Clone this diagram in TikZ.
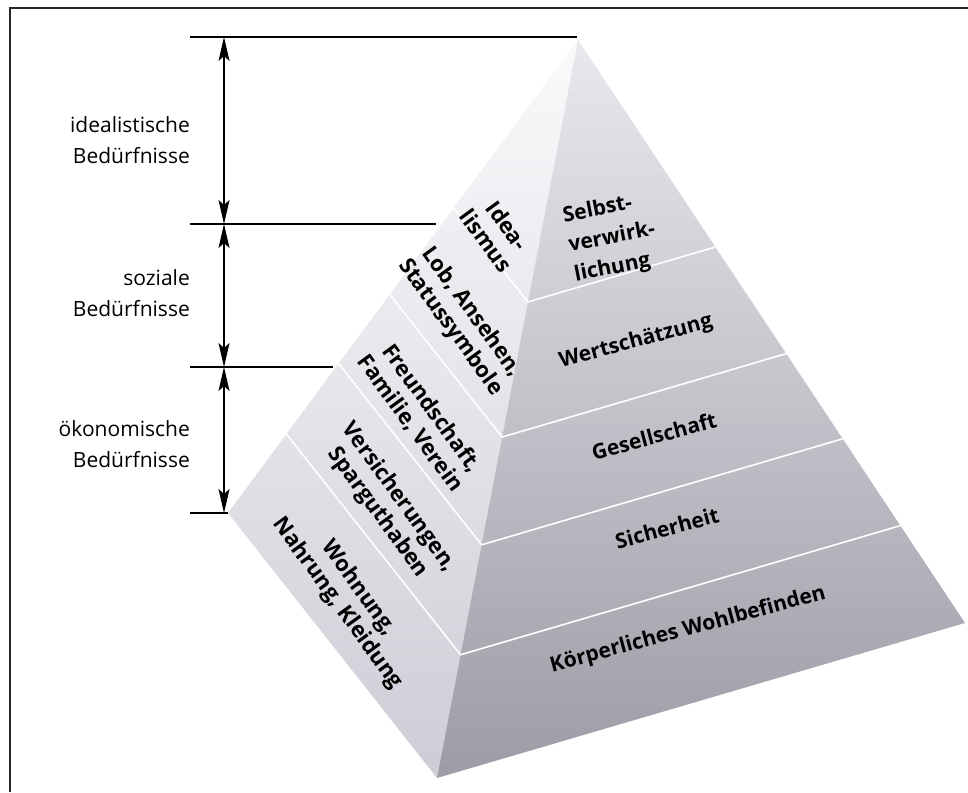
\documentclass[tikz,border=0pt]{standalone}
\usepackage{fontspec}
\setmainfont{Open Sans}
\usetikzlibrary{calc}
\usetikzlibrary{arrows.meta}

\definecolor{lefthi}{RGB}{250,250,252}
\definecolor{leftmid}{RGB}{228,228,234}
\definecolor{leftlo}{RGB}{205,205,214}
\definecolor{righthi}{RGB}{232,232,237}
\definecolor{rightmid}{RGB}{182,182,191}
\definecolor{rightlo}{RGB}{156,156,166}

\tikzset{
  bracket/.style={black, line width=1.4pt},
  dimarrow/.style={black, line width=1.4pt,
    {Stealth[length=24pt,width=11pt,inset=5pt]}-{Stealth[length=24pt,width=11pt,inset=5pt]}},
  layerline/.style={white, line width=1.6pt},
  needlabel/.style={font=\fontsize{21}{31}\selectfont, align=right, anchor=east, inner sep=0},
  leftlabel/.style={font=\bfseries\fontsize{22}{26}\selectfont, align=center, rotate=-54, inner sep=0},
  rightlabel/.style={font=\bfseries\fontsize{21}{30}\selectfont, align=center, rotate=15, inner sep=0},
}

\begin{document}
\begin{tikzpicture}[x=1pt, y=-1pt]
    \useasboundingbox (0,0) rectangle (968,792);
    \draw[line width=2pt, black!85] (10,792) -- (10,8) -- (968,8);

    % pyramid corners
    \coordinate (apex) at (578,40);
    \coordinate (lft) at (228,513);
    \coordinate (frt) at (437,778);
    \coordinate (rgt) at (965,623);

    \shade[top color=lefthi, middle color=leftmid, bottom color=leftlo] (apex) -- (lft) -- (frt) -- cycle;
    \shade[top color=righthi, middle color=rightmid, bottom color=rightlo] (apex) -- (frt) -- (rgt) -- cycle;

    \foreach \lev in {0.355,0.538,0.684,0.833} {
      \draw[layerline] ($(apex)!\lev!(lft)$) -- ($(apex)!\lev!(frt)$) -- ($(apex)!\lev!(rgt)$);
    }

    % left face
    \node[leftlabel] (ideal) at (497,233) {Idea-\\lismus};
    \node[leftlabel] (lob) at (461,320) {Lob, Ansehen,\\Statussymbole};
    \node[leftlabel] (freund) at (421,416) {Freundschaft,\\Familie, Verein};
    \node[leftlabel] (versich) at (388,505) {Versicherungen,\\Sparguthaben};
    \node[leftlabel] (wohn) at (348,596) {Wohnung,\\Nahrung, Kleidung};

    % right face
    \node[rightlabel, align=left, rotate=-4] (selbst) at (612,238) {Selbst-\\verwirk-\\lichung};
    \node[rightlabel] (wert) at (636,342) {Wertschätzung};
    \node[rightlabel] (gesell) at (654,436) {Gesellschaft};
    \node[rightlabel] (sicher) at (667,528) {Sicherheit};
    \node[rightlabel] (koerper) at (688,630) {Körperliches Wohlbefinden};

    % brackets
    \coordinate (b0) at (224,37);
    \coordinate (b1) at (224,224);
    \coordinate (b2) at (224,367);
    \coordinate (b3) at (224,513);
    \draw[bracket] (190,37) -- (577,37);
    \draw[bracket] (190,224) -- (436,224);
    \draw[bracket] (190,367) -- (333,367);
    \draw[bracket] (190,513) -- (lft);
    \draw[dimarrow] (b0) -- (b1);
    \draw[dimarrow] (b1) -- (b2);
    \draw[dimarrow] (b2) -- (b3);

    \node[needlabel] (idealist) at (190,140) {idealistische\\Bedürfnisse};
    \node[needlabel] (sozial) at (190,293) {soziale\\Bedürfnisse};
    \node[needlabel] (oekon) at (190,444) {ökonomische\\Bedürfnisse};
\end{tikzpicture}
\end{document}
